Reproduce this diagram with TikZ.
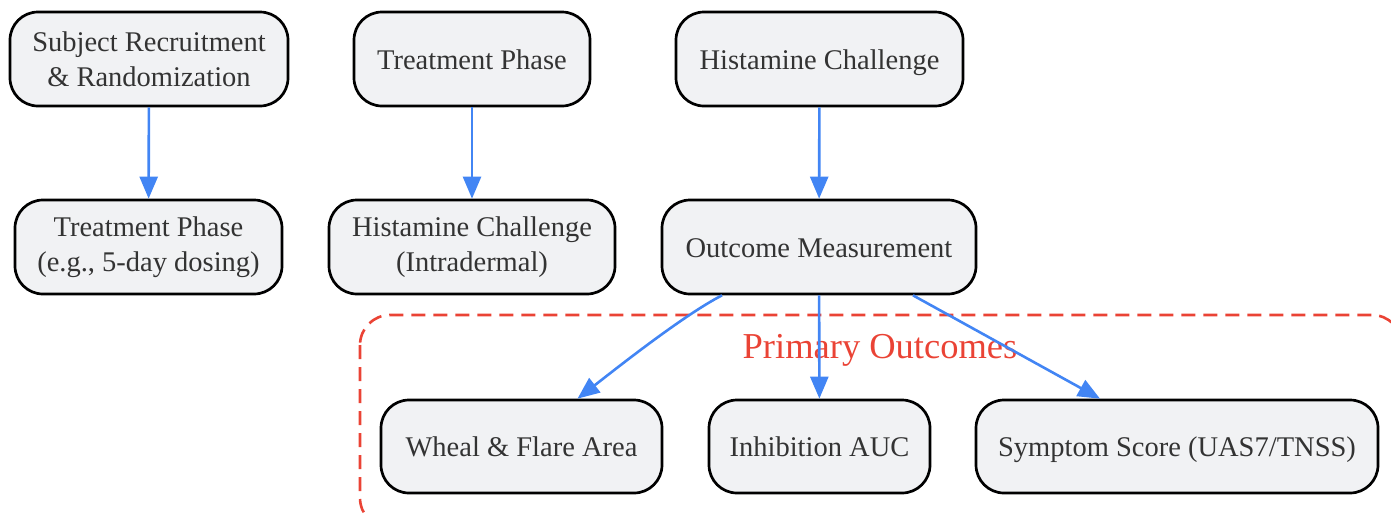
\documentclass[tikz,border=0pt]{standalone}
\usepackage{fontspec}
\setmainfont{Liberation Serif}
\usetikzlibrary{arrows.meta}
\definecolor{nodefill}{HTML}{F1F2F4}
\definecolor{txt}{HTML}{333333}
\definecolor{arrblue}{HTML}{4285F4}
\definecolor{grpred}{HTML}{EA4335}
\tikzset{
  box/.style={draw=black, line width=2.7pt, fill=nodefill, rounded corners=28pt,
    text=txt, align=center, inner sep=0pt,
    font=\fontsize{28.5}{34.5}\selectfont},
  one/.style={text height=26pt, text depth=6pt},
  arr/.style={draw=arrblue, line width=2.6pt,
    -{Triangle[length=22pt,width=18pt]}},
  grp/.style={draw=grpred, line width=2.6pt, dash pattern=on 14pt off 8pt,
    rounded corners=30pt}
}
\begin{document}
\begin{tikzpicture}[x=1pt,y=-1pt]
\useasboundingbox (0,0) rectangle (1391,512);
\begin{scope}
\clip (0,0) rectangle (1391,512);
\draw[grp] (360,315) rectangle (1402,528);
\end{scope}
\node[grpred, font=\fontsize{36.5}{40}\selectfont, text height=26pt, text depth=8pt] (lbl) at (880,349) {Primary Outcomes};

\node[box, minimum width=278pt, minimum height=94pt] (A) at (149,59) {Subject Recruitment\\\& Randomization};
\node[box, minimum width=267pt, minimum height=94pt] (B) at (148.5,247) {Treatment Phase\\(e.g., 5-day dosing)};
\node[box, one, minimum width=236pt, minimum height=94pt] (C) at (472,59) {Treatment Phase};
\node[box, minimum width=286pt, minimum height=94pt] (D) at (472,247) {Histamine Challenge\\(Intradermal)};
\node[box, one, minimum width=287pt, minimum height=94pt] (E) at (819.5,59) {Histamine Challenge};
\node[box, one, minimum width=314pt, minimum height=94pt] (F) at (819,247) {Outcome Measurement};
\node[box, one, minimum width=281pt, minimum height=93pt] (G) at (521.5,446.5) {Wheal \& Flare Area};
\node[box, one, minimum width=221pt, minimum height=93pt] (H) at (819.5,446.5) {Inhibition AUC};
\node[box, one, minimum width=402pt, minimum height=93pt] (I) at (1177,446.5) {Symptom Score (UAS7/TNSS)};

\draw[arr] (A) -- (B);
\draw[arr] (C) -- (D);
\draw[arr] (E) -- (F);
\draw[arr] ([xshift=-97pt]F.south) .. controls ([xshift=-136pt,yshift=-20pt]F.south) and ([xshift=92pt,yshift=28pt]G.north) .. ([xshift=56pt]G.north);
\draw[arr] (F) -- (H);
\draw[arr] ([xshift=94pt]F.south) -- ([xshift=-77pt]I.north);
\end{tikzpicture}
\end{document}
